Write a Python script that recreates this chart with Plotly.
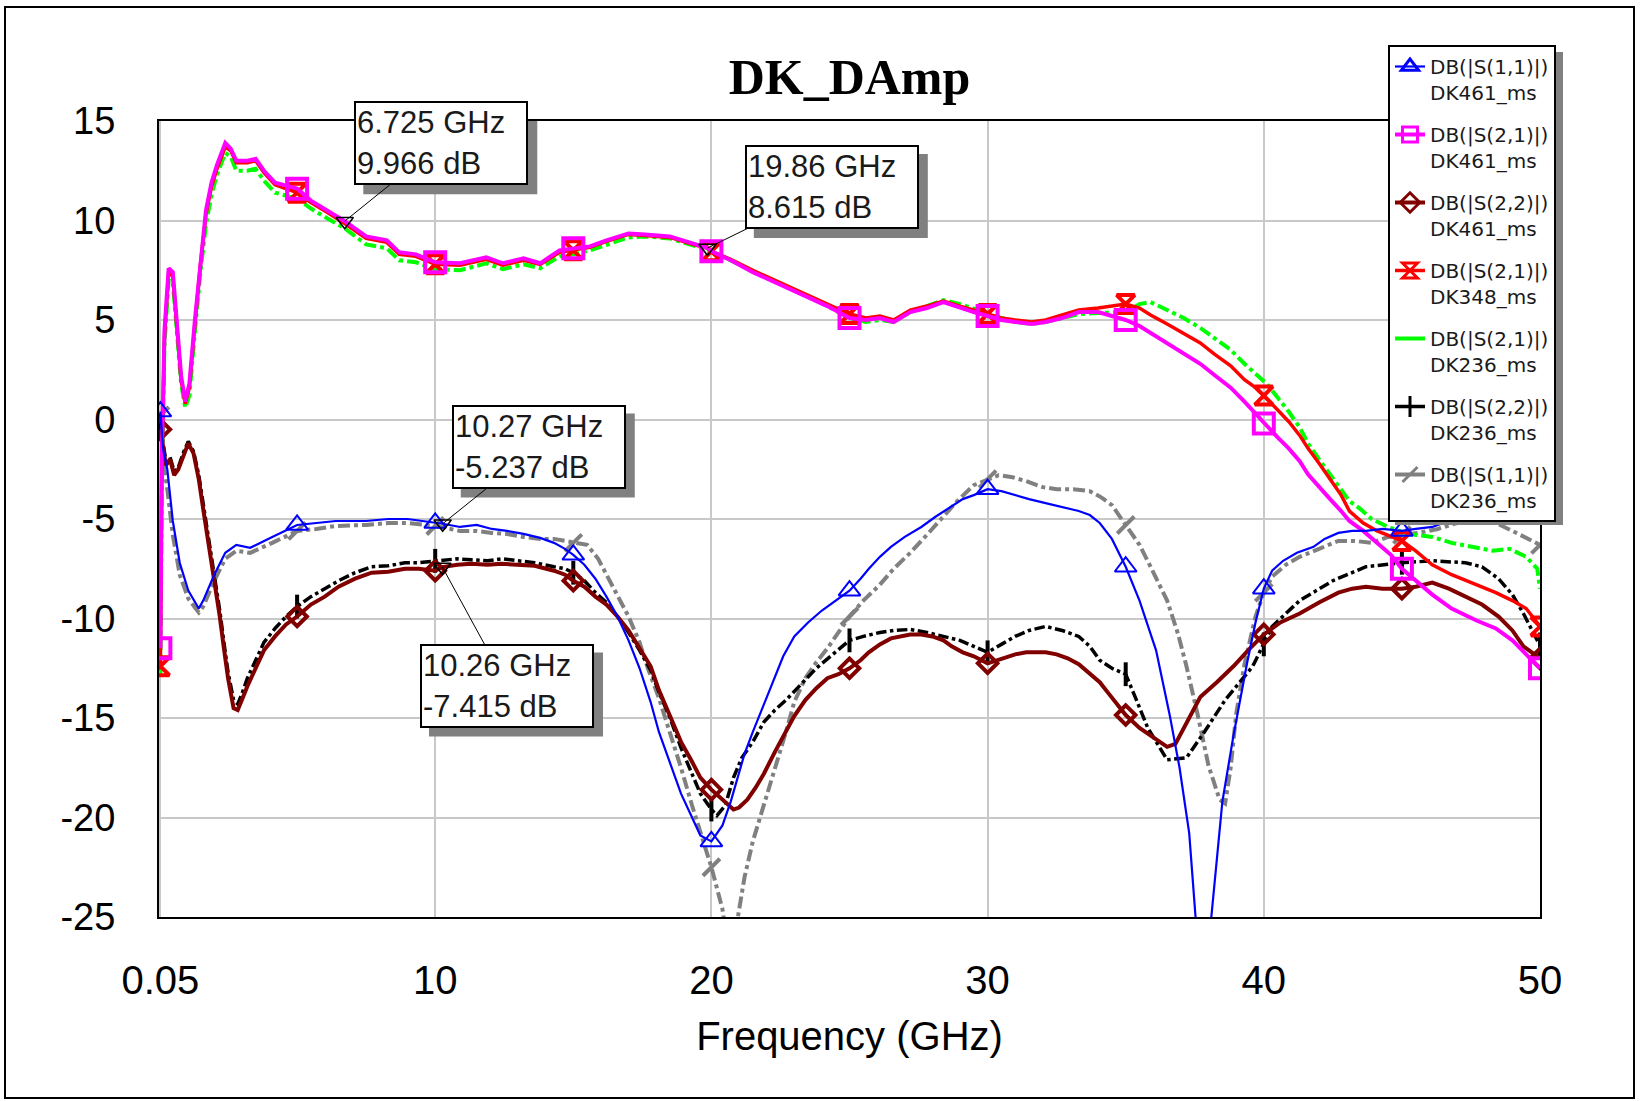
import plotly.graph_objects as go

# ---------------- data ----------------
F_S11_461 = [0.05, 0.15, 0.3, 0.5, 0.75, 1.06, 1.44, 1.6, 2.0, 2.4, 2.8, 3.3, 4.1, 5.0, 5.7, 6.4, 7.5, 8.3, 9.0, 9.6,
             10.0, 10.27, 10.9, 11.5, 12.05, 12.6, 13.2, 13.8, 14.3, 14.7, 15.0, 15.4, 15.8, 16.2, 16.6, 17.0, 17.4,
             17.8, 18.1, 18.5, 18.9, 19.3, 19.6, 20.0, 20.4, 20.7, 20.96, 21.2, 21.5, 21.9, 22.3, 22.6, 23.0, 23.5,
             24.0, 24.5, 25.0, 25.4, 25.7, 26.1, 26.5, 27.0, 27.6, 28.1, 28.7, 29.1, 29.5, 30.0, 30.5, 31.0, 31.5,
             32.1, 32.7, 33.3, 33.7, 34.06, 34.5, 35.0, 35.5, 36.1, 36.6, 36.95, 37.3, 37.55, 37.8, 38.1, 38.5, 38.9,
             39.4, 39.7, 40.0, 40.3, 40.7, 41.2, 41.8, 42.2, 42.7, 43.2, 43.7, 44.3, 45.0, 45.5, 46.1, 46.8, 47.5,
             48.3, 49.0, 50.0]
DB_S11_461 = [0.4, -1.5, -2.5, -5.1, -7.2, -8.6, -9.5, -9.1, -7.8, -6.7, -6.3, -6.45, -5.9, -5.3, -5.2, -5.1, -5.1,
              -5.0, -5.0, -5.1, -5.2, -5.237, -5.4, -5.3, -5.5, -5.6, -5.75, -5.95, -6.2, -6.5, -6.8, -7.3, -8.0, -8.9,
              -9.9, -11.1, -12.5, -14.2, -15.7, -17.3, -18.8, -20.0, -20.9, -21.2, -20.4, -19.2, -18.0, -16.8, -15.7,
              -14.3, -13.0, -11.9, -10.9, -10.2, -9.6, -9.1, -8.6, -8.0, -7.5, -6.9, -6.4, -5.9, -5.4, -4.9, -4.35,
              -4.0, -3.8, -3.5, -3.6, -3.8, -4.0, -4.2, -4.4, -4.6, -4.8, -5.2, -6.0, -7.4, -9.1, -11.6, -14.9, -17.5,
              -20.8, -25.0, -30.0, -25.0, -19.2, -15.9, -12.2, -10.2, -8.5, -7.6, -7.1, -6.7, -6.4, -6.0, -5.7, -5.6,
              -5.6, -5.5, -5.6, -5.5, -5.4, -5.05, -4.5, -4.2, -4.0, -3.8]

F_S21_461 = [0.05, 0.1, 0.2, 0.35, 0.5, 0.65, 0.8, 0.95, 1.1, 1.3, 1.5, 1.7, 1.9, 2.1, 2.4, 2.6, 2.8, 3.2, 3.5, 3.8,
             4.2, 5.0, 5.5, 6.1, 6.725, 7.5, 8.25, 8.7, 9.3, 10.0, 10.9, 11.85, 12.45, 13.2, 13.8, 14.5, 15.0, 15.6,
             16.2, 17.0, 17.6, 18.5, 19.2, 19.86, 20.0, 20.7, 21.5, 22.3, 23.0, 23.6, 24.2, 25.0, 25.6, 26.1, 26.6,
             27.2, 27.8, 28.4, 29.0, 29.5, 30.0, 30.5, 31.0, 31.6, 32.1, 32.7, 33.3, 34.0, 34.5, 35.0, 35.5, 35.9,
             36.5, 37.1, 37.7, 38.2, 38.8, 39.3, 39.7, 40.0, 40.5, 40.9, 41.3, 41.6, 42.0, 42.4, 42.8, 43.1, 43.6,
             44.1, 44.6, 45.0, 45.5, 46.1, 46.8, 47.7, 48.4, 49.0, 49.5, 50.0]
DB_S21_461 = [-11.5, -2.0, 4.5, 7.6, 7.4, 5.0, 2.2, 0.9, 1.8, 5.0, 8.0, 10.5, 11.9, 12.8, 13.9, 13.6, 13.0, 13.0,
              13.1, 12.5, 11.9, 11.6, 11.0, 10.5, 9.966, 9.2, 9.0, 8.4, 8.3, 7.9, 7.85, 8.15, 7.85, 8.1, 7.85, 8.5,
              8.6, 8.7, 9.0, 9.35, 9.3, 9.2, 8.9, 8.615, 8.45, 8.0, 7.4, 6.9, 6.45, 6.1, 5.7, 5.1, 5.0, 5.1, 4.9,
              5.4, 5.6, 5.9, 5.6, 5.4, 5.2, 5.0, 4.9, 4.8, 4.9, 5.1, 5.4, 5.4, 5.2, 5.0, 4.7, 4.35, 3.8, 3.3, 2.8,
              2.25, 1.6, 0.9, 0.3, -0.2, -0.9, -1.45, -2.1, -2.75, -3.4, -4.0, -4.6, -5.1, -5.6, -6.2, -6.8, -7.5,
              -8.1, -8.8, -9.5, -10.1, -10.5, -11.1, -11.8, -12.5]

F_S22_461 = [0.05, 0.15, 0.25, 0.4, 0.55, 0.7, 0.9, 1.06, 1.25, 1.44, 1.6, 1.8, 2.0, 2.2, 2.35, 2.5, 2.7, 2.85, 3.0,
             3.2, 3.5, 3.8, 4.2, 4.6, 5.0, 5.5, 6.0, 6.5, 7.1, 7.7, 8.3, 8.9, 9.4, 10.0, 10.26, 10.8, 11.3, 11.9,
             12.4, 13.0, 13.6, 14.3, 14.7, 15.0, 15.4, 15.8, 16.2, 16.6, 17.0, 17.4, 17.8, 18.1, 18.5, 18.9, 19.3,
             19.6, 20.0, 20.3, 20.6, 20.8, 21.0, 21.3, 21.6, 21.9, 22.3, 22.7, 23.0, 23.4, 23.8, 24.2, 24.6, 25.0,
             25.4, 25.7, 26.1, 26.5, 26.9, 27.2, 27.6, 28.0, 28.4, 28.7, 29.1, 29.5, 30.0, 30.6, 31.0, 31.4, 32.1,
             32.5, 32.9, 33.3, 33.7, 34.06, 34.4, 35.0, 35.5, 36.0, 36.5, 36.8, 37.2, 37.7, 38.3, 38.9, 39.5, 40.0,
             40.6, 41.3, 42.0, 42.7, 43.2, 43.7, 44.3, 45.0, 45.5, 46.1, 46.7, 47.3, 47.9, 48.5, 49.0, 49.4, 49.9,
             50.0]
DB_S22_461 = [-0.5, -1.5, -2.3, -2.0, -2.8, -2.5, -1.7, -1.2, -1.7, -3.0, -4.5, -6.2, -8.0, -9.9, -11.5, -13.0,
              -14.5, -14.6, -14.1, -13.4, -12.5, -11.6, -10.9, -10.3, -9.9, -9.3, -8.9, -8.4, -8.0, -7.7, -7.65,
              -7.5, -7.5, -7.6, -7.415, -7.3, -7.25, -7.3, -7.25, -7.3, -7.35, -7.6, -7.8, -8.1, -8.4, -8.9, -9.3,
              -9.9, -10.6, -11.5, -12.4, -13.6, -14.9, -16.2, -17.2, -18.0, -18.6, -19.0, -19.4, -19.6, -19.5,
              -19.1, -18.5, -17.8, -16.7, -15.7, -14.9, -14.1, -13.5, -13.0, -12.8, -12.5, -12.1, -11.7, -11.3,
              -11.0, -10.9, -10.8, -10.8, -10.9, -11.1, -11.4, -11.7, -11.9, -12.25, -12.0, -11.8, -11.7, -11.7,
              -11.8, -12.0, -12.3, -12.8, -13.2, -13.8, -14.85, -15.5, -16.0, -16.45, -16.3, -15.3, -13.95, -13.2,
              -12.4, -11.5, -10.8, -10.2, -9.75, -9.2, -8.7, -8.5, -8.4, -8.5, -8.5, -8.4, -8.2, -8.5, -8.9, -9.3,
              -9.9, -10.6, -11.4, -11.9, -12.0]

F_S21_348 = F_S21_461
DB_S21_348 = [-12.4, -3.0, 4.2, 7.4, 7.2, 4.8, 2.0, 0.8, 1.6, 4.8, 7.8, 10.3, 11.7, 12.6, 13.7, 13.5, 12.9, 12.9,
              13.0, 12.4, 11.8, 11.4, 10.9, 10.4, 9.85, 9.1, 8.9, 8.3, 8.2, 7.8, 7.75, 8.05, 7.75, 8.0, 7.8, 8.4,
              8.5, 8.65, 8.95, 9.3, 9.25, 9.15, 8.85, 8.6, 8.45, 8.05, 7.5, 7.0, 6.55, 6.2, 5.8, 5.3, 5.1, 5.2, 5.0,
              5.5, 5.7, 5.95, 5.7, 5.5, 5.3, 5.1, 5.0, 4.9, 5.0, 5.25, 5.5, 5.6, 5.7, 5.8, 5.6, 5.25, 4.8, 4.35,
              3.85, 3.3, 2.7, 2.0, 1.6, 1.2, 0.5, -0.1, -0.8, -1.45, -2.2, -3.0, -3.8, -4.6, -5.2, -5.6, -5.9, -6.1,
              -6.6, -7.3, -7.8, -8.3, -8.7, -9.1, -9.5, -10.4]

F_S21_236 = [0.05, 0.1, 0.2, 0.35, 0.5, 0.65, 0.8, 0.95, 1.1, 1.3, 1.5, 1.7, 1.9, 2.1, 2.4, 2.6, 2.8, 3.2, 3.5, 3.8,
             4.2, 5.0, 5.5, 6.1, 6.725, 7.5, 8.25, 8.7, 9.3, 10.0, 10.9, 11.85, 12.45, 13.2, 13.8, 14.5, 15.0, 15.6,
             16.2, 17.0, 17.6, 18.5, 19.2, 19.86, 20.0, 20.7, 21.5, 22.3, 23.0, 23.6, 24.2, 25.0, 25.6, 26.1, 26.6,
             27.2, 27.8, 28.4, 29.0, 29.5, 30.0, 30.5, 31.0, 31.6, 32.1, 32.7, 33.3, 34.0, 34.5, 35.0, 35.5, 35.9,
             36.5, 37.1, 37.7, 38.2, 38.8, 39.3, 39.7, 40.1, 40.5, 40.9, 41.3, 41.6, 42.0, 42.4, 42.8, 43.1, 43.5,
             43.9, 44.5, 45.0, 45.5, 46.1, 46.8, 47.5, 48.3, 48.9, 49.5, 49.9, 50.0]
DB_S21_236 = [-12.8, -3.5, 3.8, 7.0, 6.9, 4.5, 1.8, 0.6, 1.2, 4.4, 7.4, 9.8, 11.3, 12.3, 13.4, 13.2, 12.5, 12.5,
              12.6, 12.0, 11.4, 11.1, 10.6, 10.1, 9.6, 8.8, 8.6, 8.0, 7.9, 7.55, 7.5, 7.85, 7.55, 7.8, 7.6, 8.2,
              8.3, 8.5, 8.8, 9.15, 9.2, 9.1, 8.8, 8.55, 8.4, 8.0, 7.45, 6.95, 6.5, 6.1, 5.7, 5.1, 4.9, 5.0, 4.9,
              5.4, 5.7, 6.0, 5.8, 5.6, 5.35, 5.1, 4.9, 4.8, 4.9, 5.1, 5.3, 5.35, 5.4, 5.4, 5.8, 5.9, 5.5, 5.1, 4.6,
              4.1, 3.5, 2.8, 2.3, 1.8, 1.1, 0.4, -0.4, -1.2, -2.0, -2.75, -3.5, -4.1, -4.5, -5.0, -5.4, -5.65, -5.8,
              -5.9, -6.2, -6.4, -6.6, -6.5, -6.9, -7.5, -8.5]

F_S22_236 = [0.05, 0.15, 0.25, 0.4, 0.55, 0.7, 0.9, 1.06, 1.25, 1.44, 1.6, 1.8, 2.0, 2.2, 2.35, 2.5, 2.7, 2.85, 3.0,
             3.2, 3.5, 3.8, 4.2, 4.6, 5.0, 5.5, 6.0, 6.5, 7.1, 7.7, 8.3, 8.9, 9.4, 10.0, 10.8, 11.3, 11.9, 12.4,
             13.0, 13.6, 14.3, 14.7, 15.0, 15.4, 15.8, 16.2, 16.6, 17.0, 17.4, 17.8, 18.1, 18.5, 18.9, 19.3, 19.6,
             20.0, 20.2, 20.5, 20.8, 21.1, 21.5, 21.9, 22.3, 22.7, 23.2, 23.8, 24.4, 25.0, 25.5, 26.1, 26.6, 27.2,
             27.8, 28.4, 29.0, 29.5, 30.0, 30.5, 31.0, 31.5, 32.1, 32.7, 33.3, 33.7, 34.06, 34.5, 35.0, 35.3, 35.8,
             36.5, 37.2, 37.8, 38.6, 39.6, 40.0, 40.3, 41.3, 42.5, 43.7, 45.0, 46.1, 47.3, 47.9, 48.5, 49.0, 49.4,
             49.9, 50.0]
DB_S22_236 = [-0.3, -1.3, -2.1, -1.9, -2.6, -2.4, -1.6, -1.1, -1.6, -2.8, -4.2, -5.9, -7.7, -9.6, -11.2, -12.7,
              -14.1, -14.3, -13.8, -13.0, -12.1, -11.2, -10.5, -9.9, -9.4, -8.9, -8.5, -8.1, -7.7, -7.4, -7.35, -7.2,
              -7.2, -7.1, -7.0, -7.05, -7.1, -7.0, -7.1, -7.2, -7.4, -7.5, -7.7, -8.1, -8.7, -9.2, -9.9, -10.7,
              -11.6, -12.6, -13.7, -15.0, -16.5, -17.8, -18.8, -19.6, -19.9, -19.4, -18.0, -17.0, -16.2, -15.2,
              -14.6, -14.1, -13.4, -12.5, -11.8, -11.1, -10.9, -10.7, -10.6, -10.55, -10.7, -10.9, -11.1, -11.4,
              -11.7, -11.3, -10.9, -10.6, -10.4, -10.6, -10.9, -11.4, -12.1, -12.5, -12.8, -13.8, -15.5, -17.1,
              -17.0, -15.8, -14.1, -12.4, -11.3, -10.4, -9.1, -8.1, -7.4, -7.2, -7.1, -7.2, -7.4, -8.0, -8.8, -9.75,
              -11.1, -11.3]

F_S11_236 = [0.05, 0.15, 0.3, 0.5, 0.75, 1.06, 1.44, 1.6, 2.0, 2.4, 2.8, 3.3, 4.1, 5.0, 5.7, 6.4, 7.5, 8.3, 9.0, 9.6,
             10.0, 10.9, 11.5, 12.05, 12.6, 13.2, 13.8, 14.3, 14.7, 15.0, 15.5, 15.9, 16.2, 16.6, 17.0, 17.4, 17.7,
             18.1, 18.5, 18.9, 19.3, 19.6, 20.0, 20.4, 20.6, 20.9, 21.2, 21.5, 21.9, 22.3, 22.7, 23.0, 23.4, 23.8,
             24.2, 24.6, 25.0, 25.5, 26.1, 26.6, 27.2, 27.8, 28.4, 28.9, 29.5, 30.0, 30.4, 30.9, 31.4, 32.0, 32.5,
             33.1, 33.7, 34.1, 34.5, 35.0, 35.5, 35.9, 36.2, 36.5, 36.9, 37.2, 37.6, 38.0, 38.4, 38.6, 38.8, 39.0,
             39.3, 39.7, 40.0, 40.3, 40.8, 41.3, 42.0, 42.7, 43.3, 43.9, 44.5, 45.0, 45.6, 46.3, 47.0, 47.7, 48.4,
             49.0, 49.6, 50.0]
DB_S11_236 = [0.2, -2.0, -3.5, -5.8, -7.8, -9.0, -9.7, -9.4, -8.1, -7.0, -6.6, -6.7, -6.2, -5.6, -5.5, -5.35, -5.3,
              -5.2, -5.2, -5.3, -5.35, -5.6, -5.6, -5.7, -5.75, -5.9, -6.0, -6.0, -6.1, -6.2, -6.3, -7.0, -7.8, -8.8,
              -9.9, -11.2, -12.5, -14.0, -15.7, -17.5, -19.4, -20.8, -22.5, -24.6, -26.5, -25.5, -23.0, -21.2,
              -19.4, -17.5, -15.7, -14.2, -13.0, -12.2, -11.5, -10.7, -9.9, -9.1, -8.3, -7.5, -6.7, -5.8, -4.9,
              -4.1, -3.3, -3.0, -2.8, -2.9, -3.1, -3.4, -3.5, -3.5, -3.6, -3.9, -4.3, -5.3, -6.3, -7.4, -8.2, -9.1,
              -10.8, -12.4, -14.8, -17.4, -19.1, -19.3, -17.5, -14.8, -12.3, -9.9, -8.7, -7.9, -7.3, -6.9, -6.5,
              -6.1, -6.1, -6.2, -5.9, -5.8, -5.7, -5.5, -5.2, -5.0, -5.2, -5.6, -6.0, -6.3]

MARKER_FREQS = [0.05, 5.0, 10.0, 15.0, 20.0, 25.0, 30.0, 35.0, 40.0, 45.0, 50.0]

X_TICKS = [0.05, 10, 20, 30, 40, 50]
X_TICK_LABELS = ["0.05", "10", "20", "30", "40", "50"]
Y_TICKS = [15, 10, 5, 0, -5, -10, -15, -20, -25]
Y_TICK_LABELS = ["15", "10", "5", "0", "-5", "-10", "-15", "-20", "-25"]

READOUT_F = [6.725, 19.86, 10.27, 10.26]
READOUT_DB = [9.966, 8.615, -5.237, -7.415]
READOUT_BOX_F = [10.22, 24.36, 13.75, 12.6]
READOUT_BOX_DB = [13.88, 11.68, -1.36, -13.37]

# ---------------- series styling ----------------
SERIES = {
    "S11_461": dict(f=F_S11_461, db=DB_S11_461, label="DB(|S(1,1)|)<br>DK461_ms", color="#0000ff", width=2.2,
                    dash="solid", symbol="triangle-up-open", msize=19, mlw=2),
    "S21_461": dict(f=F_S21_461, db=DB_S21_461, label="DB(|S(2,1)|)<br>DK461_ms", color="#ff00ff", width=4,
                    dash="solid", symbol="square-open", msize=20, mlw=4),
    "S22_461": dict(f=F_S22_461, db=DB_S22_461, label="DB(|S(2,2)|)<br>DK461_ms", color="#800000", width=4,
                    dash="solid", symbol="diamond-open", msize=15, mlw=4),
    "S21_348": dict(f=F_S21_348, db=DB_S21_348, label="DB(|S(2,1)|)<br>DK348_ms", color="#ff0000", width=3.5,
                    dash="solid", symbol="hourglass-open", msize=18, mlw=4),
    "S21_236": dict(f=F_S21_236, db=DB_S21_236, label="DB(|S(2,1)|)<br>DK236_ms", color="#00ff00", width=4,
                    dash="dashdot", symbol=None, msize=0, mlw=0),
    "S22_236": dict(f=F_S22_236, db=DB_S22_236, label="DB(|S(2,2)|)<br>DK236_ms", color="#000000", width=3.5,
                    dash="dashdot", symbol="line-ns-open", msize=17, mlw=4),
    "S11_236": dict(f=F_S11_236, db=DB_S11_236, label="DB(|S(1,1)|)<br>DK236_ms", color="#808080", width=4,
                    dash="dashdot", symbol="line-ne-open", msize=17, mlw=4),
}
LEGEND_ORDER = ["S11_461", "S21_461", "S22_461", "S21_348", "S21_236", "S22_236", "S11_236"]
DRAW_ORDER = ["S11_236", "S22_236", "S21_236", "S21_348", "S22_461", "S21_461", "S11_461"]

fig = go.Figure()

# legend-only entries (line + symbol), in legend order
for rank, key in enumerate(LEGEND_ORDER):
    s = SERIES[key]
    mode = "lines+markers" if s["symbol"] else "lines"
    fig.add_trace(go.Scatter(
        x=[None], y=[None], mode=mode, name=s["label"], legendgroup=key, legendrank=rank + 1,
        line=dict(color=s["color"], width=min(s["width"], 4), dash="solid"),
        marker=dict(symbol=s["symbol"] or "circle", size=15, color=s["color"],
                    line=dict(color=s["color"], width=3)),
        showlegend=True, hoverinfo="skip"))

# data lines and their markers
for key in DRAW_ORDER:
    s = SERIES[key]
    fig.add_trace(go.Scatter(
        x=s["f"], y=s["db"], mode="lines", legendgroup=key, showlegend=False,
        line=dict(color=s["color"], width=s["width"], dash=s["dash"]),
        name=s["label"].replace("<br>", " ")))
    if s["symbol"]:
        mx, my = [], []
        for fv, dv in zip(s["f"], s["db"]):
            if any(abs(fv - m) < 1e-9 for m in MARKER_FREQS):
                mx.append(fv)
                my.append(dv)
        fig.add_trace(go.Scatter(
            x=mx, y=my, mode="markers", legendgroup=key, showlegend=False,
            marker=dict(symbol=s["symbol"], size=s["msize"], color=s["color"],
                        line=dict(color=s["color"], width=s["mlw"]))))

# readout markers (inverted triangles)
fig.add_trace(go.Scatter(
    x=READOUT_F, y=READOUT_DB, mode="markers", showlegend=False,
    marker=dict(symbol="triangle-down-open", size=15, color="black", line=dict(color="black", width=1.5))))

# plot area: x 159..1540, y 121..917
L, R, T, B = 159, 101, 121, 184
PW, PH = 1641 - L - R, 1101 - T - B


def px2paper_x(px):
    return (px - L) / PW


def px2paper_y(py):
    return (1101 - B - py) / PH


BOX_W, BOX_H = 174, 84   # readout box outer size in px
SHADOW = 9

shapes = [
    # outer frame of the picture
    dict(type="rect", xref="paper", yref="paper", x0=px2paper_x(5), x1=px2paper_x(1634),
         y0=px2paper_y(1098), y1=px2paper_y(7), line=dict(color="black", width=2), layer="above"),
    # legend shadow
    dict(type="rect", xref="paper", yref="paper", x0=px2paper_x(1395), x1=px2paper_x(1563),
         y0=px2paper_y(525), y1=px2paper_y(52), fillcolor="#808080", line=dict(width=0), layer="above"),
]

# readout boxes (+ their drop shadows)
annotations = []
for fv, dv, bx, by in zip(READOUT_F, READOUT_DB, READOUT_BOX_F, READOUT_BOX_DB):
    shapes.append(dict(
        type="rect", xref="x", yref="y", xsizemode="pixel", ysizemode="pixel", xanchor=bx, yanchor=by,
        x0=-BOX_W / 2 + SHADOW, x1=BOX_W / 2 + SHADOW, y0=-BOX_H / 2 - SHADOW, y1=BOX_H / 2 - SHADOW,
        fillcolor="#808080", line=dict(width=0), layer="above"))
    txt = f"{fv:g} GHz<br>{dv:g} dB"
    annotations.append(dict(
        x=fv, y=dv, xref="x", yref="y", ax=bx, ay=by, axref="x", ayref="y", text=txt,
        showarrow=True, arrowhead=0, arrowwidth=1, arrowcolor="black", standoff=0,
        align="left", width=BOX_W - 6, height=BOX_H - 6, borderpad=1, borderwidth=2,
        bgcolor="white", bordercolor="black",
        font=dict(family="Liberation Sans", size=31, color="#1a1a1a")))

fig.update_layout(
    width=1641, height=1101,
    margin=dict(l=L, r=R, t=T, b=B, autoexpand=False),
    paper_bgcolor="white", plot_bgcolor="white",
    title=dict(text="DK_DAmp", x=0.5, xref="paper", xanchor="center", y=1 - 76 / 1101, yref="container",
               yanchor="middle", font=dict(family="Liberation Serif", size=50, color="black", weight="bold")),
    xaxis=dict(range=[0, 50], tickvals=X_TICKS, ticktext=X_TICK_LABELS, showgrid=True, gridcolor="#c8c8c8",
               gridwidth=2, showline=True, linecolor="black", linewidth=2, mirror=True, zeroline=False,
               ticks="", ticklabelstandoff=27, automargin=False,
               tickfont=dict(family="Liberation Sans", size=40, color="black"),
               title=dict(text="Frequency (GHz)", standoff=21,
                          font=dict(family="Liberation Sans", size=40, color="black"))),
    yaxis=dict(range=[-25, 15], tickvals=Y_TICKS, ticktext=Y_TICK_LABELS, showgrid=True, gridcolor="#c8c8c8",
               gridwidth=2, showline=True, linecolor="black", linewidth=2, mirror=True, zeroline=False,
               ticks="", ticklabelstandoff=34, automargin=False,
               tickfont=dict(family="Liberation Sans", size=38, color="black")),
    legend=dict(x=px2paper_x(1388), y=px2paper_y(45), xanchor="left", yanchor="top", bgcolor="white",
                bordercolor="black", borderwidth=2, itemwidth=30, valign="top", tracegroupgap=13,
                traceorder="grouped", itemclick=False,
                font=dict(family="DejaVu Sans", size=20, color="#1a1a1a")),
    shapes=shapes,
    annotations=annotations,
    showlegend=True,
)

fig.write_html("out.html")
